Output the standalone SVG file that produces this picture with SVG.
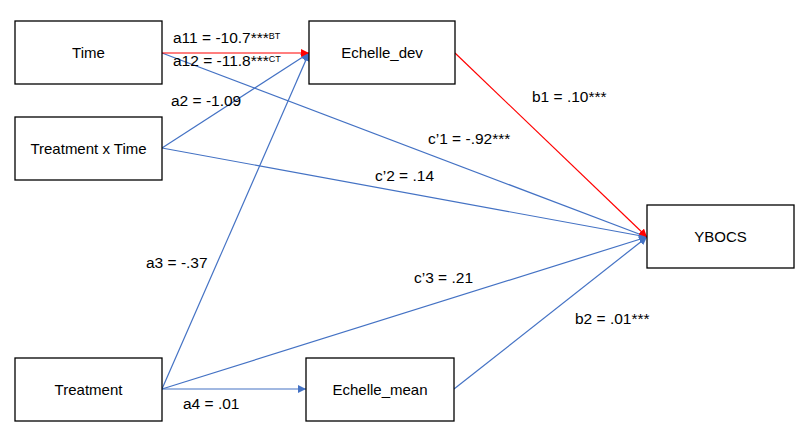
<svg xmlns="http://www.w3.org/2000/svg" width="801" height="440" viewBox="0 0 801 440">
<style>
.box{fill:#fff;stroke:#000;stroke-width:1.3}
.lbl{font-family:"Liberation Sans",Arial,sans-serif;font-size:15px;fill:#000}
.el{font-size:15.5px}
.nt{text-anchor:middle;dominant-baseline:central}
.sup{font-size:9px}
.blue{stroke:#4472C4;stroke-width:1.2;fill:none}
.red{stroke:#FF0000;stroke-width:1.2;fill:none}
</style>
<defs>
<marker id="ab" viewBox="0 0 10 10" refX="10" refY="5" markerWidth="8" markerHeight="8" markerUnits="userSpaceOnUse" orient="auto"><path d="M0,0 L10,5 L0,10 z" fill="#4472C4"/></marker>
<marker id="ar" viewBox="0 0 10 10" refX="10" refY="5" markerWidth="8" markerHeight="8" markerUnits="userSpaceOnUse" orient="auto"><path d="M0,0 L10,5 L0,10 z" fill="#FF0000"/></marker>
</defs>
<rect width="801" height="440" fill="#fff"/>
<g id="connectors">
<line class="blue" x1="162" y1="53" x2="647" y2="237" marker-end="url(#ab)"/>
<line class="blue" x1="162" y1="148" x2="309" y2="53" marker-end="url(#ab)"/>
<line class="blue" x1="162" y1="148" x2="647" y2="237" marker-end="url(#ab)"/>
<line class="blue" x1="162" y1="389" x2="309" y2="53" marker-end="url(#ab)"/>
<line class="blue" x1="162" y1="389" x2="647" y2="237" marker-end="url(#ab)"/>
<line class="blue" x1="162" y1="389" x2="306" y2="389" marker-end="url(#ab)"/>
<line class="blue" x1="454" y1="389" x2="647" y2="237" marker-end="url(#ab)"/>
<line class="red" x1="162" y1="53" x2="309" y2="53" marker-end="url(#ar)"/>
<line class="red" x1="455" y1="53" x2="647" y2="237" marker-end="url(#ar)"/>
</g>
<g id="labels">
<text class="lbl el" x="173" y="43">a11 = -10.7***<tspan class="sup" dy="-4">BT</tspan></text>
<text class="lbl el" x="173" y="66">a12 = -11.8***<tspan class="sup" dy="-4">CT</tspan></text>
<text class="lbl el" x="171" y="106">a2 = -1.09</text>
<text class="lbl el" x="532" y="102">b1 = .10***</text>
<text class="lbl el" x="428" y="144">c’1 = -.92***</text>
<text class="lbl el" x="375" y="181">c’2 = .14</text>
<text class="lbl el" x="146" y="268">a3 = -.37</text>
<text class="lbl el" x="414" y="283">c’3 = .21</text>
<text class="lbl el" x="575" y="324">b2 = .01***</text>
<text class="lbl el" x="183" y="409">a4 = .01</text>
</g>
<g id="time"><rect class="box" x="15" y="21" width="147" height="63"/><text class="lbl nt" x="88.5" y="52.5">Time</text></g>
<g id="treatment-x-time"><rect class="box" x="15" y="117" width="147" height="63"/><text class="lbl nt" x="88.5" y="148.5">Treatment x Time</text></g>
<g id="treatment"><rect class="box" x="15" y="358" width="147" height="63"/><text class="lbl nt" x="88.5" y="389.5">Treatment</text></g>
<g id="echelle-dev"><rect class="box" x="309" y="21" width="146" height="63"/><text class="lbl nt" x="382" y="52.5">Echelle_dev</text></g>
<g id="echelle-mean"><rect class="box" x="306" y="358" width="148" height="63"/><text class="lbl nt" x="380" y="389.5">Echelle_mean</text></g>
<g id="ybocs"><rect class="box" x="647" y="205" width="147" height="63"/><text class="lbl nt" x="720.5" y="236.5">YBOCS</text></g>
</svg>
